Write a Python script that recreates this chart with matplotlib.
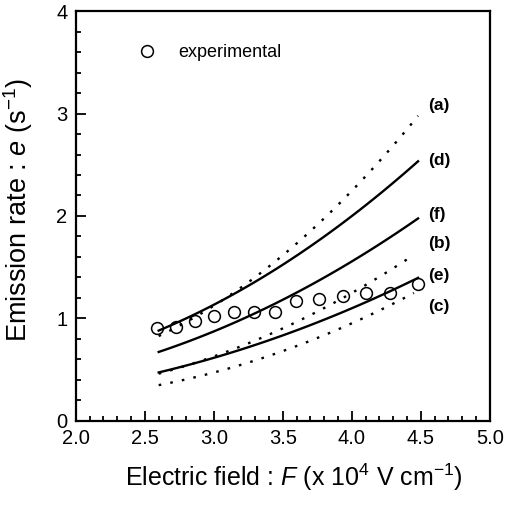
"""
Emission rate vs electric field
"""
import matplotlib
matplotlib.use("Agg")
import matplotlib.pyplot as plt
import numpy as np

plt.rcParams['font.family'] = ['Liberation Sans', 'DejaVu Sans']
plt.rcParams['mathtext.fontset'] = 'custom'
plt.rcParams['mathtext.rm'] = 'Liberation Sans'
plt.rcParams['mathtext.it'] = 'Liberation Sans:italic'

# experimental points
F_exp = [2.59, 2.725, 2.86, 3.0, 3.145, 3.29, 3.44, 3.595, 3.76, 3.935, 4.10, 4.28, 4.48]
e_exp = [0.905, 0.92, 0.97, 1.02, 1.06, 1.06, 1.06, 1.165, 1.19, 1.215, 1.25, 1.25, 1.335]

# calculated curves
F_a = [2.6, 2.9, 3.19, 3.5, 3.91, 4.3, 4.48]
e_a = [0.82, 1.04, 1.32, 1.61, 2.11, 2.68, 2.99]
F_d = [2.6, 3.04, 3.5, 3.65, 4.03, 4.48]
e_d = [0.88, 1.17, 1.50, 1.67, 2.04, 2.53]
F_f = [2.6, 3.04, 3.48, 3.62, 4.03, 4.48]
e_f = [0.67, 0.90, 1.16, 1.28, 1.57, 1.98]
F_b = [2.6, 3.04, 3.5, 4.0, 4.45]
e_b = [0.46, 0.65, 0.90, 1.25, 1.62]
F_e = [2.6, 3.04, 3.5, 3.84, 4.28, 4.48]
e_e = [0.47, 0.63, 0.85, 1.00, 1.25, 1.41]
F_c = [2.6, 3.04, 3.5, 3.99, 4.45]
e_c = [0.35, 0.48, 0.69, 0.94, 1.25]

curve_labels = ['(a)', '(d)', '(f)', '(b)', '(e)', '(c)']
label_y = [3.08, 2.54, 2.01, 1.73, 1.42, 1.12]


def smooth(x, y, n=60):
    # quadratic fit through read points, only to draw a smooth line
    p = np.polyfit(x, y, 2)
    xs = np.linspace(x[0], x[-1], n)
    return xs, np.polyval(p, xs)


fig = plt.figure(figsize=(5.06, 5.07), dpi=100)
ax = fig.add_axes([0.150, 0.170, 0.818, 0.808])

dot = (0, (1.1, 3.9))
for F, e, ls in [(F_a, e_a, dot), (F_d, e_d, '-'), (F_f, e_f, '-'),
                 (F_b, e_b, dot), (F_e, e_e, '-'), (F_c, e_c, dot)]:
    xs, ys = smooth(F, e)
    ax.plot(xs, ys, color='black', lw=1.7, linestyle=ls)

ax.plot(F_exp, e_exp, 'o', ms=8.5, mfc='none', mec='black', mew=1.1,
        label='experimental')

for lab, y in zip(curve_labels, label_y):
    ax.text(4.55, y, lab, fontsize=12.5, fontweight='bold', va='center', ha='left')

ax.legend(loc='center left', bbox_to_anchor=(0.128, 0.898), frameon=False,
          handlelength=1.0, handletextpad=1.25, fontsize=13, borderpad=0)

ax.set_xlim(2.0, 5.0)
ax.set_ylim(0, 4)
ax.set_xticks(np.arange(2.0, 5.01, 0.5))
ax.set_xticks(np.arange(2.0, 5.01, 0.1), minor=True)
ax.set_yticks(np.arange(0, 4.01, 1))
ax.set_yticks(np.arange(0, 4.01, 0.2), minor=True)
ax.xaxis.set_major_formatter(matplotlib.ticker.FormatStrFormatter('%.1f'))
ax.tick_params(which='both', direction='in', labelsize=14.5, width=1.3)
ax.tick_params(which='major', length=7, pad=6)
ax.tick_params(which='minor', length=3.5)
for s in ax.spines.values():
    s.set_linewidth(1.6)

ax.set_xlabel('Electric field : $F$ (x 10$^4$ V cm$^{-1}$)', fontsize=18)
ax.set_ylabel('Emission rate : $e$ (s$^{-1}$)', fontsize=19.5)
ax.xaxis.set_label_coords(0.527, -0.10)
ax.yaxis.set_label_coords(-0.098, 0.515)

plt.savefig('out.png', dpi=100)
